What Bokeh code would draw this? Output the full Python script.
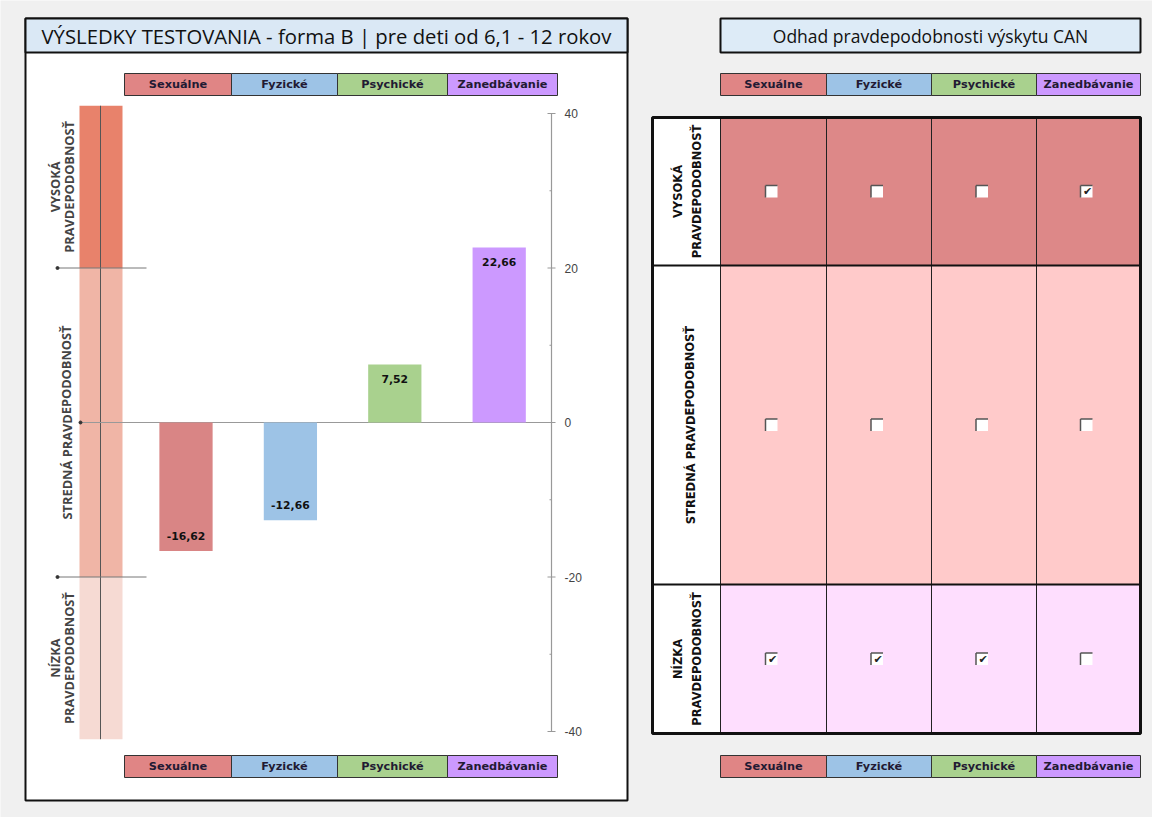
from bokeh.plotting import figure
from bokeh.models import Range1d, ColumnDataSource
from bokeh.core.properties import value
from bokeh.embed import file_html
from bokeh.resources import INLINE

# ---------------- data ----------------
categories = ["Sexuálne", "Fyzické", "Psychické", "Zanedbávanie"]
scores = [-16.62, -12.66, 7.52, 22.66]
score_labels = ["-16,62", "-12,66", "7,52", "22,66"]
header_colors = ["#E08585", "#9DC3E6", "#A9D18E", "#CC99FF"]
bar_colors = ["#D98585", "#9DC3E6", "#A9D18E", "#CC99FF"]

band_names = ["VYSOKÁ\nPRAVDEPODOBNOSŤ", "STREDNÁ PRAVDEPODOBNOSŤ", "NÍZKA\nPRAVDEPODOBNOSŤ"]
band_low = [20, -20, -41]
band_high = [41, 20, -20]
band_colors = ["#E8826B", "#F0B5A6", "#F6DAD3"]

major_ticks = [-40, -20, 0, 20, 40]
minor_ticks = [-30, -10, 10, 30]

levels = ["VYSOKÁ PRAVDEPODOBNOSŤ", "STREDNÁ PRAVDEPODOBNOSŤ", "NÍZKA PRAVDEPODOBNOSŤ"]
level_labels = ["VYSOKÁ\nPRAVDEPODOBNOSŤ", "STREDNÁ PRAVDEPODOBNOSŤ", "NÍZKA\nPRAVDEPODOBNOSŤ"]
level_colors = ["#DD8888", "#FFCACA", "#FEDEFE"]
estimated_level = ["NÍZKA PRAVDEPODOBNOSŤ", "NÍZKA PRAVDEPODOBNOSŤ",
                   "NÍZKA PRAVDEPODOBNOSŤ", "VYSOKÁ PRAVDEPODOBNOSŤ"]

title_left = "VÝSLEDKY TESTOVANIA - forma B | pre deti od 6,1 - 12 rokov"
title_right = "Odhad pravdepodobnosti výskytu CAN"

# ---------------- layout constants ----------------
W, H = 1152, 817
ZERO_Y = 422.0
PX_PER_UNIT = 7.725
BAR0, BAR_STEP = 185.5, 104.4
AXIS_X = 551

HDR_LEFT_EDGES = [124, 231, 337, 447, 557]
HDR_RIGHT_EDGES = [720, 826, 931, 1036, 1140]
HDR_TOP = (73, 95)
HDR_BOTTOM = (755, 777)
GRID_LEFT = 652
GRID_ROWS = [117, 265, 584, 733]
BOX = 12

BOLD_FONT = value("DejaVu Sans")

p = figure(width=W, height=H, output_backend="svg", toolbar_location=None,
           x_range=Range1d(0, W), y_range=Range1d(H, 0), min_border=0,
           background_fill_color="#F0F0F0", border_fill_color="#F0F0F0")
p.axis.visible = False
p.grid.visible = False
p.outline_line_color = None
p.extra_y_ranges = {"val": Range1d(start=(ZERO_Y - H) / PX_PER_UNIT, end=ZERO_Y / PX_PER_UNIT)}
p.extra_x_ranges = {"idx": Range1d(start=-BAR0 / BAR_STEP, end=(W - BAR0) / BAR_STEP)}

# ---------------- left panel ----------------
p.quad(left=25, right=627, top=18, bottom=800, fill_color="white", line_color="#111111", line_width=2)
p.quad(left=25, right=627, top=18, bottom=52, fill_color="#DAE8F5", line_color="#111111", line_width=2)
p.text(x=[41], y=[35], text=[title_left], text_font=value("Open Sans"), text_font_size="20.3px",
       text_baseline="middle", text_align="left", text_color="#111111")


def header_row(edges, ytb):
    left = edges[:-1]
    right = edges[1:]
    p.quad(left=left, right=right, top=ytb[0], bottom=ytb[1], fill_color=header_colors,
           line_color="#333333", line_width=1)
    cx = [(a + b) / 2 for a, b in zip(left, right)]
    cy = (ytb[0] + ytb[1]) / 2
    p.text(x=cx, y=[cy] * len(cx), text=categories, text_font=BOLD_FONT, text_font_style="bold",
           text_font_size="11.3px", text_align="center", text_baseline="middle", text_color="#221a33")


header_row(HDR_LEFT_EDGES, HDR_TOP)
header_row(HDR_LEFT_EDGES, HDR_BOTTOM)

# probability bands
p.quad(left=79, right=122, bottom=band_low, top=band_high, fill_color=band_colors,
       line_color=None, y_range_name="val")
p.segment(x0=100, x1=100, y0=min(band_low), y1=max(band_high), line_color="#555555",
          line_width=1, y_range_name="val")
p.segment(x0=[57, 57], x1=[146, 146], y0=[band_low[0], band_high[2]], y1=[band_low[0], band_high[2]],
          line_color="#777777", line_width=1, y_range_name="val")
p.scatter(x=[57, 57], y=[band_low[0], band_high[2]], size=3, color="#333333", y_range_name="val")
band_mid = [(a + b) / 2 for a, b in zip(band_low, band_high)]
p.text(x=[61.5, 66, 61.5], y=band_mid, text=band_names, angle=1.5708, text_font=value("Open Sans"),
       text_font_style="bold", text_font_size="12.8px", text_align="center", text_baseline="middle",
       text_color="#444444", text_line_height=0.75, y_range_name="val")

# zero line
p.segment(x0=80, x1=AXIS_X, y0=0, y1=0, line_color="#999999", line_width=1, y_range_name="val")
p.scatter(x=[80], y=[0], size=3, color="#333333", y_range_name="val")

# bars
idx = list(range(len(categories)))
src = ColumnDataSource(dict(x=idx, top=scores, color=bar_colors, label=score_labels,
                            off=[15 if s > 0 else -15 for s in scores]))
p.vbar(x="x", top="top", bottom=0, width=0.51, fill_color="color", line_color=None, source=src,
       x_range_name="idx", y_range_name="val")
p.text(x="x", y="top", text="label", y_offset="off", source=src, text_font=BOLD_FONT,
       text_font_style="bold", text_font_size="10.8px", text_align="center", text_baseline="middle",
       text_color="#111111", x_range_name="idx", y_range_name="val")

# value axis (right of bars)
p.segment(x0=AXIS_X, x1=AXIS_X, y0=min(major_ticks), y1=max(major_ticks), line_color="#999999",
          line_width=1.2, y_range_name="val")
p.segment(x0=AXIS_X - 4, x1=AXIS_X + 4, y0=major_ticks, y1=major_ticks, line_color="#999999",
          y_range_name="val")
p.segment(x0=AXIS_X - 2, x1=AXIS_X, y0=minor_ticks, y1=minor_ticks, line_color="#999999",
          y_range_name="val")
p.text(x=AXIS_X + 13, y=major_ticks, text=[str(t) for t in major_ticks], text_font=value("Liberation Sans"),
       text_font_size="12px", text_align="left", text_baseline="middle", text_color="#444444",
       y_range_name="val")

# ---------------- right panel ----------------
p.quad(left=720, right=1140, top=18, bottom=52, fill_color="#DDEBF7", line_color="#111111", line_width=2)
p.text(x=[930], y=[35], text=[title_right], text_font=value("Open Sans"), text_font_size="17.5px",
       text_align="center", text_baseline="middle", text_color="#111111")
header_row(HDR_RIGHT_EDGES, HDR_TOP)
header_row(HDR_RIGHT_EDGES, HDR_BOTTOM)

col_left = HDR_RIGHT_EDGES[:-1]
col_right = HDR_RIGHT_EDGES[1:]
col_cx = [(a + b) / 2 for a, b in zip(col_left, col_right)]
row_top = GRID_ROWS[:-1]
row_bot = GRID_ROWS[1:]
row_cy = [(a + b) / 2 for a, b in zip(row_top, row_bot)]

# cells
cl, cr, ct, cb, cc = [], [], [], [], []
for r in range(len(levels)):
    for c in range(len(categories)):
        cl.append(col_left[c]); cr.append(col_right[c])
        ct.append(row_top[r]); cb.append(row_bot[r]); cc.append(level_colors[r])
p.quad(left=cl, right=cr, top=ct, bottom=cb, fill_color=cc, line_color="#222222", line_width=1)
p.quad(left=GRID_LEFT, right=HDR_RIGHT_EDGES[0], top=row_top, bottom=row_bot, fill_color="white",
       line_color="#222222", line_width=1)
p.segment(x0=GRID_LEFT, x1=HDR_RIGHT_EDGES[-1], y0=GRID_ROWS[1:3], y1=GRID_ROWS[1:3],
          line_color="#111111", line_width=2)
p.quad(left=GRID_LEFT, right=HDR_RIGHT_EDGES[-1], top=GRID_ROWS[0], bottom=GRID_ROWS[-1],
       fill_color=None, line_color="#111111", line_width=3)
p.text(x=[687, 690, 687], y=row_cy, text=level_labels, angle=1.5708, text_font=BOLD_FONT,
       text_font_style="bold", text_font_size="11.5px", text_align="center", text_baseline="middle",
       text_color="#111111", text_line_height=1.4)

# checkboxes
bx, by, chx, chy = [], [], [], []
for c, cat in enumerate(categories):
    for r, lev in enumerate(levels):
        bx.append(col_cx[c] - 2); by.append(row_cy[r])
        if estimated_level[c] == lev:
            chx.append(col_cx[c] - 1); chy.append(row_cy[r])
half = BOX / 2
p.scatter(x=bx, y=by, marker="square", size=BOX, fill_color="white", line_color=None)
p.segment(x0=[x - half for x in bx], x1=[x + half for x in bx], y0=[y - half for y in by],
          y1=[y - half for y in by], line_color="#555555", line_width=1.5)
p.segment(x0=[x - half for x in bx], x1=[x - half for x in bx], y0=[y - half for y in by],
          y1=[y + half for y in by], line_color="#555555", line_width=1.5)
p.text(x=chx, y=chy, text=["✔"] * len(chx), text_font=value("DejaVu Sans"), text_font_size="11px",
       text_align="center", text_baseline="middle", text_color="#222222")

open("out.html", "w").write(file_html(p, INLINE))
